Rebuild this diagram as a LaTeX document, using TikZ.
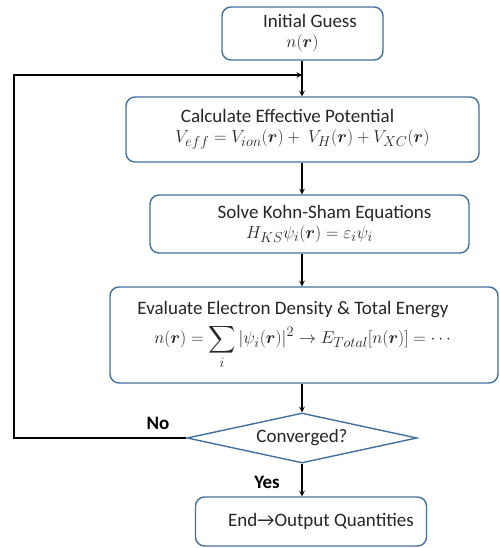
\documentclass[tikz,border=0pt]{standalone}
\usepackage{fontspec}
\setmainfont{Carlito}
\usepackage{amsmath,amssymb}
\usepackage{xcolor}
\usetikzlibrary{shapes.geometric, arrows}
\definecolor{boxblue}{HTML}{41719C}
\definecolor{textgray}{HTML}{262626}
\tikzstyle{arrow} = [line width=1.4pt,->,>=stealth]
\newcommand{\vr}{\boldsymbol{r}}

\begin{document}
\begin{tikzpicture}
        [
            x=1pt,y=-1pt,
            box/.style={rectangle,rounded corners=9pt,draw=boxblue,line width=1.4pt,fill=white,
                align=center,text=textgray,font=\fontsize{19}{22}\selectfont,inner sep=0pt},
            decision/.style={diamond,aspect=4.6,draw=boxblue,line width=1.4pt,fill=white,
                text=textgray,font=\fontsize{19}{22}\selectfont,inner sep=0pt},
            tag/.style={font=\fontsize{19}{22}\selectfont\bfseries,text=black},
        ]
    \useasboundingbox (0,0) rectangle (499,548);

    \node[box,minimum width=161pt,minimum height=53pt] (guess) at (302.5,33.5)
        {\hspace*{15pt}Initial Guess\\[-2pt] $n(\vr)$};
    \node[box,minimum width=353pt,minimum height=65pt] (veff) at (302.5,129.5)
        {Calculate Effective Potential\hspace*{30pt}\\[-2pt]
         $V_{eff}=V_{ion}(\vr)+\ V_H(\vr)+V_{XC}(\vr)$};
    \node[box,minimum width=319pt,minimum height=58pt] (ks) at (309.5,224)
        {\hspace*{30pt}Solve Kohn-Sham Equations\\[-2pt] $H_{KS}\psi_i(\vr)=\varepsilon_i\psi_i$};
    \node[box,minimum width=388pt,minimum height=96pt] (dens) at (304,335)
        {Evaluate Electron Density \& Total Energy\hspace*{22pt}\\[6pt]
         $n(\vr)=\displaystyle\sum_i|\psi_i(\vr)|^2\rightarrow E_{Total}[n(\vr)]=\cdots$};
    \node[decision,minimum width=230pt,minimum height=50pt] (conv) at (302,438) {Converged?};
    \node[box,minimum width=231pt,minimum height=49pt] (out) at (311,521.5)
        {\hspace*{20pt}End→Output Quantities};

    \node[tag] (nolabel) at (158,423) {No};
    \node[tag] (yeslabel) at (267,482) {Yes};

    \coordinate (back) at (14,438);
    \coordinate (join) at (302,75);

    \draw[arrow] (guess.south -| conv.north) -- (veff.north -| conv.north);
    \draw[arrow] (veff.south -| conv.north) -- (ks.north -| conv.north);
    \draw[arrow] (ks.south -| conv.north) -- (dens.north -| conv.north);
    \draw[arrow] (dens.south -| conv.north) -- (conv.north);
    \draw[arrow] (conv.south) -- (out.north -| conv.south);
    \draw[arrow] (conv.west) -- (back) |- (join);
    \end{tikzpicture}
\end{document}
